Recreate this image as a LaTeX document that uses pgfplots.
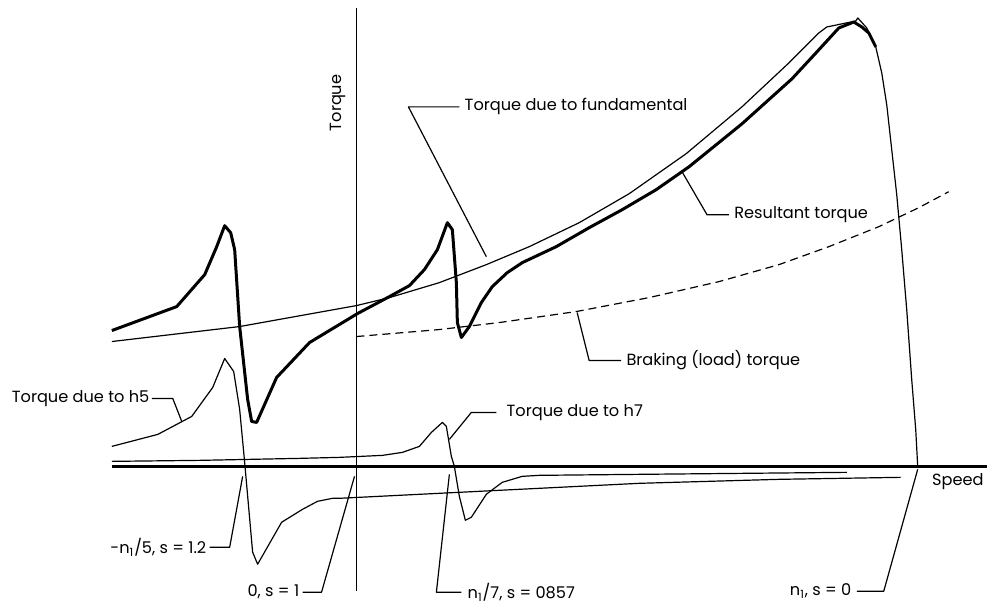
\documentclass[border=0pt]{standalone}
\usepackage{fontspec}
\setmainfont{Poppins}
\usepackage{pgfplots}
\pgfplotsset{compat=1.18}

% pixel-like coordinates: x to the right, y downwards
\pgfplotstableread{
x y
112 331
177 307
205 275
217 247
225 226
231 233
235 250
240 327
248 400
252 422
257 423
277 378
310 343
358 314
390 297
410 286
425 270
438 250
448 223
453 230
457 283
458 323
462 338
470 327
482 303
493 287
508 273
523 263
557 247
590 228
623 210
657 190
690 167
743 124
793 79
818 52
840 28
855 22
863 27
870 33
877 47
}\resultant

\pgfplotstableread{
x y
112 342
240 327
357 306
390 298
440 283
487 265
530 247
580 223
630 194
687 154
743 107
790 63
820 33
828 27
857 21
859 18
868 28
877 47
883 73
888 105
893 150
898 195
903 250
908 310
913 380
917 430
919 467
}\fundamental

\pgfplotstableread{
x y
112 447
158 435
192 417
213 388
225 359
234 372
240 410
245 463
253 553
258 565
282 523
303 510
318 502
333 499
340 499
500 491
640 484
780 480
902 478
}\hfive

\pgfplotstableread{
x y
112 462
200 461
300 459
340 458
383 456
403 453
420 447
432 433
443 423
447 427
452 457
455 467
460 497
466 521
472 518
487 495
503 483
523 477
540 476
640 475
848 473
}\hseven

\pgfplotstableread{
x y
357 337
440 330
500 323
577 312
650 298
720 282
780 265
830 247
880 227
920 208
950 192
}\braking

\begin{document}
\begin{tikzpicture}[lbl/.style={font=\fontsize{8.1}{9}\selectfont, inner sep=0pt}]
\begin{axis}[
    width=494pt, height=303.5pt, scale only axis,
    xmin=0, xmax=988, ymin=0, ymax=607,
    y dir=reverse, hide axis, clip=false,
    every axis plot/.append style={black, line join=round},
  ]
  \addplot[draw=none] coordinates {(0,0) (988,607)};
  % axes
  \addplot[line width=1pt] coordinates {(357,8) (357,592)};
  \addplot[line width=1.4pt] coordinates {(112,467) (988,467)};
  % curves
  \addplot[line width=0.6pt] table {\fundamental};
  \addplot[line width=0.6pt] table {\hfive};
  \addplot[line width=0.6pt] table {\hseven};
  \addplot[line width=0.6pt, dash pattern=on 4pt off 2.5pt] table {\braking};
  \addplot[line width=1.5pt] table {\resultant};
  % leaders
  \addplot[line width=0.6pt] coordinates {(460,107) (409,107) (487,257)};
  \addplot[line width=0.6pt] coordinates {(730,215) (708,215) (683,172)};
  \addplot[line width=0.6pt] coordinates {(622,361) (590,361) (578,313)};
  \addplot[line width=0.6pt] coordinates {(152,399) (173,399) (182,422)};
  \addplot[line width=0.6pt] coordinates {(497,413) (472,413) (450,440)};
  \addplot[line width=0.6pt] coordinates {(210,548) (230,548) (243,477)};
  \addplot[line width=0.6pt] coordinates {(303,593) (322,593) (355,477)};
  \addplot[line width=0.6pt] coordinates {(462,593) (437,593) (450,475)};
  \addplot[line width=0.6pt] coordinates {(858,592) (885,592) (919,470)};
  % labels
  \node[lbl, anchor=west] at (axis cs:465,107) {Torque due to fundamental};
  \node[lbl, anchor=west] at (axis cs:735,215) {Resultant torque};
  \node[lbl, anchor=west] at (axis cs:627,361) {Braking (load) torque};
  \node[lbl, anchor=east] at (axis cs:150,399) {Torque due to h5};
  \node[lbl, anchor=west] at (axis cs:507,413) {Torque due to h7};
  \node[lbl, anchor=east] at (axis cs:207,548) {-n\textsubscript{1}/5, s = 1.2};
  \node[lbl, anchor=east] at (axis cs:300,593) {0, s = 1};
  \node[lbl, anchor=west] at (axis cs:468,593) {n\textsubscript{1}/7, s = 0857};
  \node[lbl, anchor=east] at (axis cs:853,592) {n\textsubscript{1}, s = 0};
  \node[lbl, anchor=west] at (axis cs:933,482) {Speed};
  \node[lbl, rotate=90] at (axis cs:338,103) {Torque};
\end{axis}
\end{tikzpicture}
\end{document}
